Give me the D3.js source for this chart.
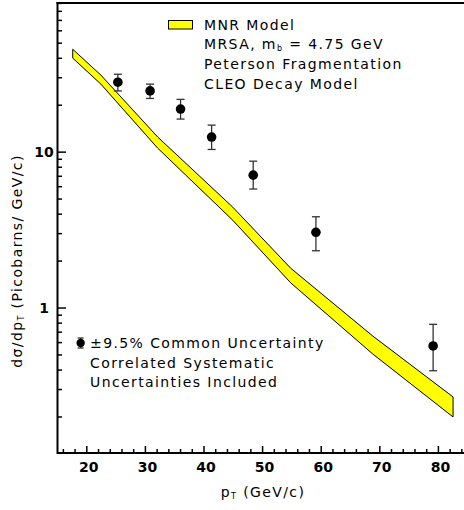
<!DOCTYPE html>
<html>
<head>
<meta charset="utf-8">
<script src="https://cdn.jsdelivr.net/npm/d3@7"></script>
<style>
  body { margin: 0; background: #fff; }
  svg { display: block; }
  .lbl { font-family: "DejaVu Sans", sans-serif; font-size: 14px; letter-spacing: 1.4px; fill: #000; }
  .tick-lbl { font-family: "DejaVu Sans", sans-serif; font-size: 14px; font-weight: bold; fill: #000; }
</style>
</head>
<body>
<div class="chart"></div>
<script>
// measured points (pT in GeV/c, cross section in pb/GeV/c)
var dataPt   = [25.3, 30.8, 36.0, 41.3, 48.4, 59.1, 79.1];
var dataVal  = [28.1, 24.7, 18.9, 12.5, 7.12, 3.06, 0.571];
var dataHigh = [31.6, 27.3, 21.8, 14.9, 8.75, 3.85, 0.786];
var dataLow  = [24.7, 22.1, 16.3, 10.4, 5.8, 2.33, 0.396];

// MNR model band
var bandPt    = [17.6, 22.4, 32.1, 44.9, 54.8, 68.8, 82.5];
var bandUpper = [45.7, 31.2, 12.5, 4.44, 1.80, 0.661, 0.269];
var bandLower = [40.1, 27.3, 10.6, 3.66, 1.45, 0.507, 0.200];

var xMajor = [20, 30, 40, 50, 60, 70, 80];
var yLabels = [1, 10];

var legendLines = ["MNR Model", "MRSA, m_b = 4.75 GeV", "Peterson Fragmentation", "CLEO Decay Model"];
var noteLines = ["\u00b19.5% Common Uncertainty", "Correlated Systematic", "Uncertainties Included"];

var W = 464, H = 510;
var svg = d3.select(".chart").append("svg").attr("width", W).attr("height", H);

var x = d3.scaleLinear().domain([15, 85]).range([57.5, 467.7]);
var y = d3.scaleLog().domain([0.1175, 90.5]).range([453, 3]);

// band
var band = bandPt.map(function (p, i) { return { p: p, lo: bandLower[i], hi: bandUpper[i] }; });
var area = d3.area()
  .x(function (d) { return x(d.p); })
  .y0(function (d) { return y(d.lo); })
  .y1(function (d) { return y(d.hi); });
svg.append("path")
  .attr("d", area(band) + "Z")
  .attr("fill", "#ffff00")
  .attr("stroke", "#000")
  .attr("stroke-width", 1);

// x minor/major ticks
var xTicks = d3.range(16, 86, 2);
svg.selectAll(".xt").data(xTicks).enter().append("line")
  .attr("x1", function (d) { return x(d); })
  .attr("x2", function (d) { return x(d); })
  .attr("y1", 453)
  .attr("y2", function (d) { return d % 10 === 0 ? 446 : 449; })
  .attr("stroke", "#000").attr("stroke-width", 1.5);

svg.selectAll(".xl").data(xMajor).enter().append("text")
  .attr("class", "tick-lbl")
  .attr("x", function (d) { return x(d) + 2; })
  .attr("y", 472)
  .attr("text-anchor", "middle")
  .text(function (d) { return d; });

// y ticks
var yTicks = [];
[0.1, 1, 10].forEach(function (dec) {
  for (var k = 1; k <= 9; k++) {
    var v = dec * k;
    if (v >= 0.1175 && v <= 90.5) yTicks.push(v);
  }
});
svg.selectAll(".yt").data(yTicks).enter().append("line")
  .attr("x1", 57.5)
  .attr("x2", function (d) { return (Math.abs(d - 1) < 1e-9 || Math.abs(d - 10) < 1e-9) ? 66 : 62; })
  .attr("y1", function (d) { return y(d); })
  .attr("y2", function (d) { return y(d); })
  .attr("stroke", "#000").attr("stroke-width", 1.5);

svg.selectAll(".yl").data(yLabels).enter().append("text")
  .attr("class", "tick-lbl")
  .attr("x", 44)
  .attr("y", function (d) { return y(d) + 5; })
  .attr("text-anchor", "middle")
  .text(function (d) { return d; });

// frame
svg.append("line").attr("x1", 57.5).attr("x2", W).attr("y1", 453).attr("y2", 453)
  .attr("stroke", "#000").attr("stroke-width", 2);
svg.append("line").attr("x1", 57.5).attr("x2", 57.5).attr("y1", 2).attr("y2", 454)
  .attr("stroke", "#000").attr("stroke-width", 2);
svg.append("line").attr("x1", 56.5).attr("x2", W).attr("y1", 3).attr("y2", 3)
  .attr("stroke", "#000").attr("stroke-width", 2);

// data points with error bars
var pts = dataPt.map(function (p, i) { return { p: p, v: dataVal[i], hi: dataHigh[i], lo: dataLow[i] }; });
var g = svg.selectAll(".pt").data(pts).enter().append("g");
g.append("line")
  .attr("x1", function (d) { return x(d.p); }).attr("x2", function (d) { return x(d.p); })
  .attr("y1", function (d) { return y(d.hi); }).attr("y2", function (d) { return y(d.lo); })
  .attr("stroke", "#333").attr("stroke-width", 1.3);
["hi", "lo"].forEach(function (k) {
  g.append("line")
    .attr("x1", function (d) { return x(d.p) - 4; }).attr("x2", function (d) { return x(d.p) + 4; })
    .attr("y1", function (d) { return y(d[k]); }).attr("y2", function (d) { return y(d[k]); })
    .attr("stroke", "#333").attr("stroke-width", 1.3);
});
g.append("circle")
  .attr("cx", function (d) { return x(d.p); })
  .attr("cy", function (d) { return y(d.v); })
  .attr("r", 4.8).attr("fill", "#000");

// legend: model
svg.append("rect").attr("x", 168.5).attr("y", 20.5).attr("width", 24).attr("height", 8.5)
  .attr("fill", "#ffff00").attr("stroke", "#000").attr("stroke-width", 1);
legendLines.forEach(function (s, i) {
  var t = svg.append("text").attr("class", "lbl").attr("x", 204).attr("y", 29.5 + i * 19.8);
  if (s.indexOf("m_b") >= 0) {
    var parts = s.split("m_b");
    t.append("tspan").text(parts[0] + "m");
    t.append("tspan").attr("font-size", "8px").attr("dy", 2).text("b");
    t.append("tspan").attr("dy", -2).text(parts[1]);
  } else {
    t.text(s);
  }
});

// legend: note
var nx = x(18.95), ny = 343;
svg.append("line").attr("x1", nx).attr("x2", nx).attr("y1", ny - 5).attr("y2", ny + 5)
  .attr("stroke", "#333").attr("stroke-width", 1.3);
svg.append("line").attr("x1", nx - 3).attr("x2", nx + 3).attr("y1", ny - 5).attr("y2", ny - 5)
  .attr("stroke", "#333").attr("stroke-width", 1.3);
svg.append("line").attr("x1", nx - 3).attr("x2", nx + 3).attr("y1", ny + 5).attr("y2", ny + 5)
  .attr("stroke", "#333").attr("stroke-width", 1.3);
svg.append("circle").attr("cx", nx).attr("cy", ny).attr("r", 4.2).attr("fill", "#000");
noteLines.forEach(function (s, i) {
  svg.append("text").attr("class", "lbl").attr("x", 90).attr("y", 348 + i * 19.5).text(s);
});

// axis titles
var xt = svg.append("text").attr("class", "lbl").attr("x", 263).attr("y", 497).attr("text-anchor", "middle");
xt.append("tspan").text("p");
xt.append("tspan").attr("font-size", "8px").attr("dy", 2).text("T");
xt.append("tspan").attr("dy", -2).text(" (GeV/c)");

var yt = svg.append("text").attr("class", "lbl")
  .attr("transform", "translate(22,261) rotate(-90)")
  .attr("text-anchor", "middle");
yt.append("tspan").text("d\u03c3/dp");
yt.append("tspan").attr("font-size", "8px").attr("dy", 2).text("T");
yt.append("tspan").attr("dy", -2).text(" (Picobarns/ GeV/c)");
</script>
</body>
</html>
